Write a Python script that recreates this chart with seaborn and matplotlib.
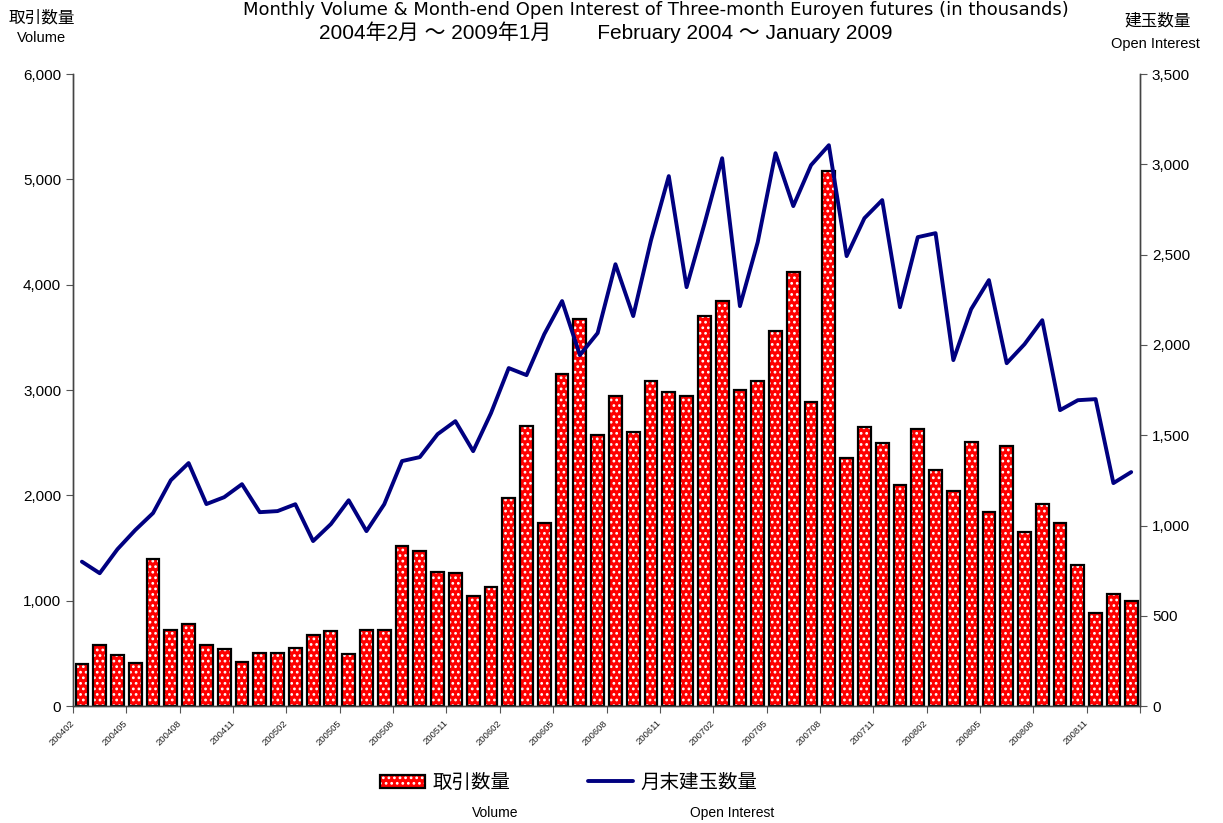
import numpy as np
import pandas as pd
import matplotlib
matplotlib.use("Agg")
import matplotlib.pyplot as plt
import seaborn as sb
from matplotlib.legend_handler import HandlerTuple

# monthly volume / month-end open interest (thousands), Feb 2004 - Jan 2009
months = [p.strftime("%Y%m") for p in pd.period_range("2004-02", "2009-01", freq="M")]

volume = [400, 580, 484, 408, 1400, 727, 775, 582, 544, 415, 506, 506,
          554, 674, 709, 497, 720, 720, 1520, 1475, 1275, 1265, 1050, 1130,
          1975, 2660, 1735, 3150, 3675, 2575, 2940, 2600, 3090, 2980, 2940, 3700,
          3850, 3000, 3090, 3560, 4120, 2890, 5080, 2360, 2650, 2500, 2100, 2630,
          2240, 2040, 2510, 1840, 2470, 1650, 1920, 1740, 1340, 880, 1065, 1000]

open_interest = [800, 736, 869, 975, 1069, 1251, 1346, 1119, 1157, 1229, 1074, 1080,
                 1118, 914, 1008, 1140, 969, 1118, 1357, 1379, 1506, 1578, 1412, 1622,
                 1872, 1833, 2060, 2243, 1944, 2066, 2447, 2160, 2580, 2935, 2320, 2669,
                 3034, 2215, 2569, 3062, 2769, 2996, 3106, 2492, 2702, 2802, 2209, 2597,
                 2619, 1916, 2198, 2359, 1899, 2004, 2137, 1639, 1694, 1700, 1235, 1296]

tick_labels = months[::3] + [""]

sb.set_style("ticks")
plt.rcParams["font.family"] = ["Liberation Sans", "Noto Sans CJK JP", "DejaVu Sans"]
plt.rcParams["hatch.linewidth"] = 1.2
plt.rcParams["text.color"] = "black"
plt.rcParams["xtick.labelcolor"] = "black"
plt.rcParams["ytick.labelcolor"] = "black"
cjk = ["Noto Sans CJK JP", "DejaVu Sans"]
mixed = ["Liberation Sans", "Noto Sans CJK JP", "DejaVu Sans"]

fig = plt.figure(figsize=(12.23, 8.23), dpi=100)
ax = fig.add_axes([0.0597, 0.142, 0.8725, 0.768])

# red bars with white dots, then black outline on top
sb.barplot(x=months, y=volume, ax=ax, color="red", saturation=1, edgecolor="white",
           hatch="...", linewidth=0, width=0.72)
sb.barplot(x=months, y=volume, ax=ax, fill=False, color="black", edgecolor="black",
           linewidth=1.6, width=0.72)

ax2 = ax.twinx()
sb.lineplot(x=np.arange(len(months)), y=open_interest, ax=ax2, color="#000080",
            linewidth=2.8)

ax.set_xlim(-0.5, len(months) - 0.5)
ax.set_ylim(0, 6000)
ax2.set_ylim(0, 3500)
ax.set_yticks(range(0, 6001, 1000))
ax.set_yticklabels([f"{v:,}" for v in range(0, 6001, 1000)], fontsize=11)
ax2.set_yticks(range(0, 3501, 500))
ax2.set_yticklabels([f"{v:,}" for v in range(0, 3501, 500)], fontsize=11)
ax.set_xticks(np.arange(-0.5, len(months), 3))
ax.set_xticklabels(tick_labels, rotation=45, ha="right", va="center",
                   rotation_mode="anchor", fontsize=6.8, color="#222222")
ax.tick_params(axis="x", length=5, pad=6, color="#555555")
ax.tick_params(axis="y", length=5, color="#555555")
ax2.tick_params(axis="y", length=5, color="#555555")
ax.set_xlabel("")
ax.set_ylabel("")
ax2.set_ylabel("")
for a in (ax, ax2):
    a.spines["top"].set_visible(False)
    for s in ("left", "right", "bottom"):
        a.spines[s].set_color("#444444")
        a.spines[s].set_linewidth(1.0)
ax.grid(False)
ax2.grid(False)

# titles
fig.text(0.536, 0.999, "Monthly Volume & Month-end Open Interest of Three-month Euroyen futures (in thousands)",
         ha="center", va="top", fontsize=13, family="DejaVu Sans")
fig.text(0.495, 0.961, "2004年2月 〜 2009年1月        February 2004 〜 January 2009",
         ha="center", va="center", fontsize=15, family=mixed)
fig.text(0.034, 0.978, "取引数量", ha="center", va="center", fontsize=12, family=cjk)
fig.text(0.034, 0.954, "Volume", ha="center", va="center", fontsize=10.5)
fig.text(0.947, 0.974, "建玉数量", ha="center", va="center", fontsize=12, family=cjk)
fig.text(0.945, 0.947, "Open Interest", ha="center", va="center", fontsize=10.5)

# legend
bars_dot = ax.containers[0].patches[0]
bars_edge = ax.containers[1].patches[0]
line = ax2.get_lines()[0]
fig.legend([(bars_dot, bars_edge), line], ["取引数量", "月末建玉数量"],
           handler_map={tuple: HandlerTuple(ndivide=1)},
           loc="center", bbox_to_anchor=(0.465, 0.049), ncol=2, frameon=False,
           prop={"family": cjk, "size": 14}, handlelength=2.3,
           handletextpad=0.4, columnspacing=4)
fig.text(0.405, 0.012, "Volume", ha="center", va="center", fontsize=10)
fig.text(0.599, 0.012, "Open Interest", ha="center", va="center", fontsize=10)

plt.savefig("out.png", dpi=100)
